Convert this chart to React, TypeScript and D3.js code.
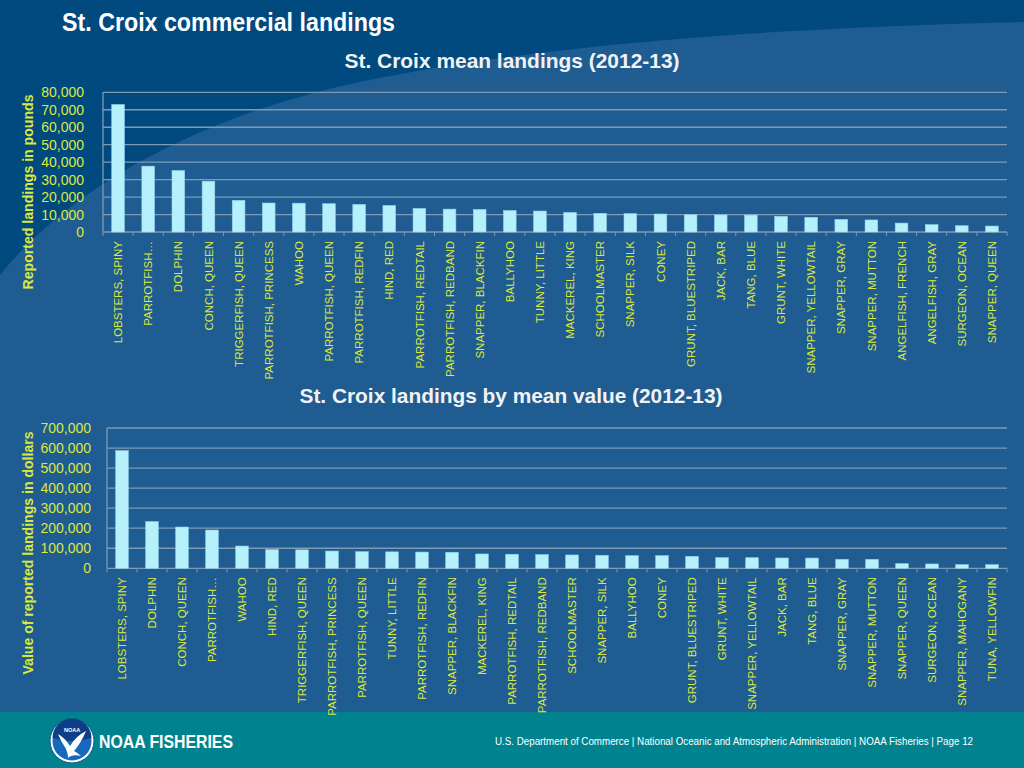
import React from 'react';
import * as d3 from 'd3';

const W = 1024;
const H = 768;

// ---- Data: mean landings (pounds) ----
const speciesPounds = [
  'LOBSTERS, SPINY', 'PARROTFISH…', 'DOLPHIN', 'CONCH, QUEEN', 'TRIGGERFISH, QUEEN',
  'PARROTFISH, PRINCESS', 'WAHOO', 'PARROTFISH, QUEEN', 'PARROTFISH, REDFIN', 'HIND, RED',
  'PARROTFISH, REDTAIL', 'PARROTFISH, REDBAND', 'SNAPPER, BLACKFIN', 'BALLYHOO', 'TUNNY, LITTLE',
  'MACKEREL, KING', 'SCHOOLMASTER', 'SNAPPER, SILK', 'CONEY', 'GRUNT, BLUESTRIPED',
  'JACK, BAR', 'TANG, BLUE', 'GRUNT, WHITE', 'SNAPPER, YELLOWTAIL', 'SNAPPER, GRAY',
  'SNAPPER, MUTTON', 'ANGELFISH, FRENCH', 'ANGELFISH, GRAY', 'SURGEON, OCEAN', 'SNAPPER, QUEEN',
];
const pounds = [
  73000, 37700, 35200, 29100, 18100,
  16600, 16500, 16200, 15800, 15200,
  13500, 13100, 12900, 12300, 12000,
  11200, 10700, 10500, 10300, 9900,
  9800, 9700, 9000, 8400, 7200,
  6900, 5100, 4200, 3600, 3400,
];
const poundTicks = [0, 10000, 20000, 30000, 40000, 50000, 60000, 70000, 80000];

// ---- Data: mean value (dollars) ----
const speciesValue = [
  'LOBSTERS, SPINY', 'DOLPHIN', 'CONCH, QUEEN', 'PARROTFISH…', 'WAHOO',
  'HIND, RED', 'TRIGGERFISH, QUEEN', 'PARROTFISH, PRINCESS', 'PARROTFISH, QUEEN', 'TUNNY, LITTLE',
  'PARROTFISH, REDFIN', 'SNAPPER, BLACKFIN', 'MACKEREL, KING', 'PARROTFISH, REDTAIL', 'PARROTFISH, REDBAND',
  'SCHOOLMASTER', 'SNAPPER, SILK', 'BALLYHOO', 'CONEY', 'GRUNT, BLUESTRIPED',
  'GRUNT, WHITE', 'SNAPPER, YELLOWTAIL', 'JACK, BAR', 'TANG, BLUE', 'SNAPPER, GRAY',
  'SNAPPER, MUTTON', 'SNAPPER, QUEEN', 'SURGEON, OCEAN', 'SNAPPER, MAHOGANY', 'TUNA, YELLOWFIN',
];
const dollars = [
  587000, 233000, 206000, 191000, 111000,
  93000, 92000, 86000, 83000, 82000,
  81000, 80000, 71500, 70000, 68200,
  66500, 64900, 63200, 63000, 59900,
  53200, 52800, 51400, 51000, 44900,
  44500, 23300, 21600, 18300, 18000,
];
const dollarTicks = [0, 100000, 200000, 300000, 400000, 500000, 600000, 700000];

const LABEL = '#dce83c';
const BAR = '#b6f0fd';
const GRID = '#7f9ab4';
const FONT = '"Liberation Sans", Arial, sans-serif';
const NARROW = '"Liberation Sans Narrow", "Arial Narrow", "Liberation Sans", Arial, sans-serif';

type ChartProps = {
  cats: string[];
  vals: number[];
  ticks: number[];
  xL: number;
  xR: number;
  yBase: number;
  yTop: number;
  yTitle: string;
  yTitleCenter: number;
  yTitleLen: number;
  tickRight: number;
};

function BarChart(p: ChartProps) {
  const x = d3.scaleBand<string>().domain(p.cats).range([p.xL, p.xR]).padding(0);
  const maxT = p.ticks[p.ticks.length - 1];
  const y = d3.scaleLinear().domain([0, maxT]).range([p.yBase, p.yTop]);
  const fmt = d3.format(',');
  const bw = x.bandwidth() * 0.42;
  const boundaries = p.cats.map((c) => x(c) as number).concat([p.xR]);
  return (
    <g>
      {p.ticks.map((t) => (
        <g key={t}>
          {t > 0 && (
            <line x1={p.xL} x2={p.xR} y1={y(t)} y2={y(t)} stroke={GRID} strokeWidth={1.3} />
          )}
          <text
            x={p.tickRight}
            y={y(t)}
            dy="0.36em"
            textAnchor="end"
            fill={LABEL}
            fontSize={14}
            fontFamily={NARROW}
          >
            {fmt(t)}
          </text>
        </g>
      ))}
      <line x1={p.xL} x2={p.xL} y1={p.yTop} y2={p.yBase} stroke={GRID} strokeWidth={1.3} />
      <line x1={p.xL} x2={p.xR} y1={p.yBase} y2={p.yBase} stroke={GRID} strokeWidth={1.3} />
      {boundaries.map((bx, i) => (
        <line key={i} x1={bx} x2={bx} y1={p.yBase} y2={p.yBase + 4} stroke={GRID} strokeWidth={1} />
      ))}
      {p.cats.map((c, i) => {
        const cx = (x(c) as number) + x.bandwidth() / 2;
        return (
          <g key={c + i}>
            <rect
              x={cx - bw / 2}
              y={y(p.vals[i])}
              width={bw}
              height={p.yBase - y(p.vals[i])}
              fill={BAR}
              stroke="#8fd6ea"
              strokeWidth={0.6}
            />
            <text
              transform={`translate(${cx},${p.yBase + 9}) rotate(-90)`}
              dy="0.36em"
              textAnchor="end"
              fill={LABEL}
              fontSize={11.5}
              fontFamily={FONT}
            >
              {c}
            </text>
          </g>
        );
      })}
      <text
        transform={`translate(33,${p.yTitleCenter}) rotate(-90)`}
        textAnchor="middle"
        fill={LABEL}
        fontSize={14}
        fontWeight="bold"
        fontFamily={FONT}
        textLength={p.yTitleLen}
        lengthAdjust="spacingAndGlyphs"
      >
        {p.yTitle}
      </text>
    </g>
  );
}

function Logo() {
  return (
    <g transform="translate(72,741)">
      <circle r={22} fill="#ffffff" stroke="#0b5a8a" strokeWidth={1} />
      <circle r={19.5} fill="#1668bd" />
      <path d="M-19.5,-3 A19.5,19.5 0 0,1 19.5,-3 Q0,3 -19.5,-3 Z" fill="#0d3f88" />
      <path
        d="M-14,-7 Q-7,-3 -2,5 Q4,-5 14,-10 Q9,2 2,10 Q6,12 9,15 Q0,13 -4,17 Q-4,10 -9,3 Q-12,-2 -14,-7 Z"
        fill="#ffffff"
      />
      <text y={-9} textAnchor="middle" fill="#ffffff" fontSize={5.5} fontWeight="bold" fontFamily={FONT}>
        NOAA
      </text>
    </g>
  );
}

export default function App() {
  return (
    <div style={{ position: 'absolute', left: 0, top: 0, width: W, height: H }}>
      <svg width={W} height={H} style={{ display: 'block' }}>
        <rect x={0} y={0} width={W} height={H} fill="#004a80" />
        <path
          d="M0,275 C60,200 180,120 360,82 C540,45 760,28 1024,22 L1024,712 L0,712 Z"
          fill="#1f5c92"
        />
        <rect x={0} y={712} width={W} height={56} fill="#00838f" />
        <Logo />
        <text
          x={99}
          y={748}
          fill="#ffffff"
          fontSize={18}
          fontWeight="bold"
          fontFamily={NARROW}
          textLength={134}
          lengthAdjust="spacingAndGlyphs"
        >
          NOAA FISHERIES
        </text>
        <text
          x={495}
          y={745}
          fill="#ffffff"
          fontSize={10}
          fontFamily={NARROW}
          textLength={478}
          lengthAdjust="spacingAndGlyphs"
        >
          U.S. Department of Commerce | National Oceanic and Atmospheric Administration | NOAA Fisheries | Page 12
        </text>
        <text
          x={62}
          y={31}
          fill="#ffffff"
          fontSize={25}
          fontWeight="bold"
          fontFamily={NARROW}
          textLength={333}
          lengthAdjust="spacingAndGlyphs"
        >
          St. Croix commercial landings
        </text>
        <text
          x={512}
          y={68}
          textAnchor="middle"
          fill="#f2f2f2"
          fontSize={21}
          fontWeight="bold"
          fontFamily={NARROW}
          textLength={335}
          lengthAdjust="spacingAndGlyphs"
        >
          St. Croix mean landings (2012-13)
        </text>
        <BarChart
          cats={speciesPounds}
          vals={pounds}
          ticks={poundTicks}
          xL={103}
          xR={1007}
          yBase={232}
          yTop={92.3}
          yTitle="Reported landings in pounds"
          yTitleCenter={192}
          yTitleLen={195}
          tickRight={84}
        />
        <text
          x={511}
          y={403}
          textAnchor="middle"
          fill="#f2f2f2"
          fontSize={21}
          fontWeight="bold"
          fontFamily={NARROW}
          textLength={423}
          lengthAdjust="spacingAndGlyphs"
        >
          St. Croix landings by mean value (2012-13)
        </text>
        <BarChart
          cats={speciesValue}
          vals={dollars}
          ticks={dollarTicks}
          xL={107}
          xR={1007}
          yBase={568.3}
          yTop={428}
          yTitle="Value of reported landings in dollars"
          yTitleCenter={553}
          yTitleLen={243}
          tickRight={91}
        />
      </svg>
    </div>
  );
}
